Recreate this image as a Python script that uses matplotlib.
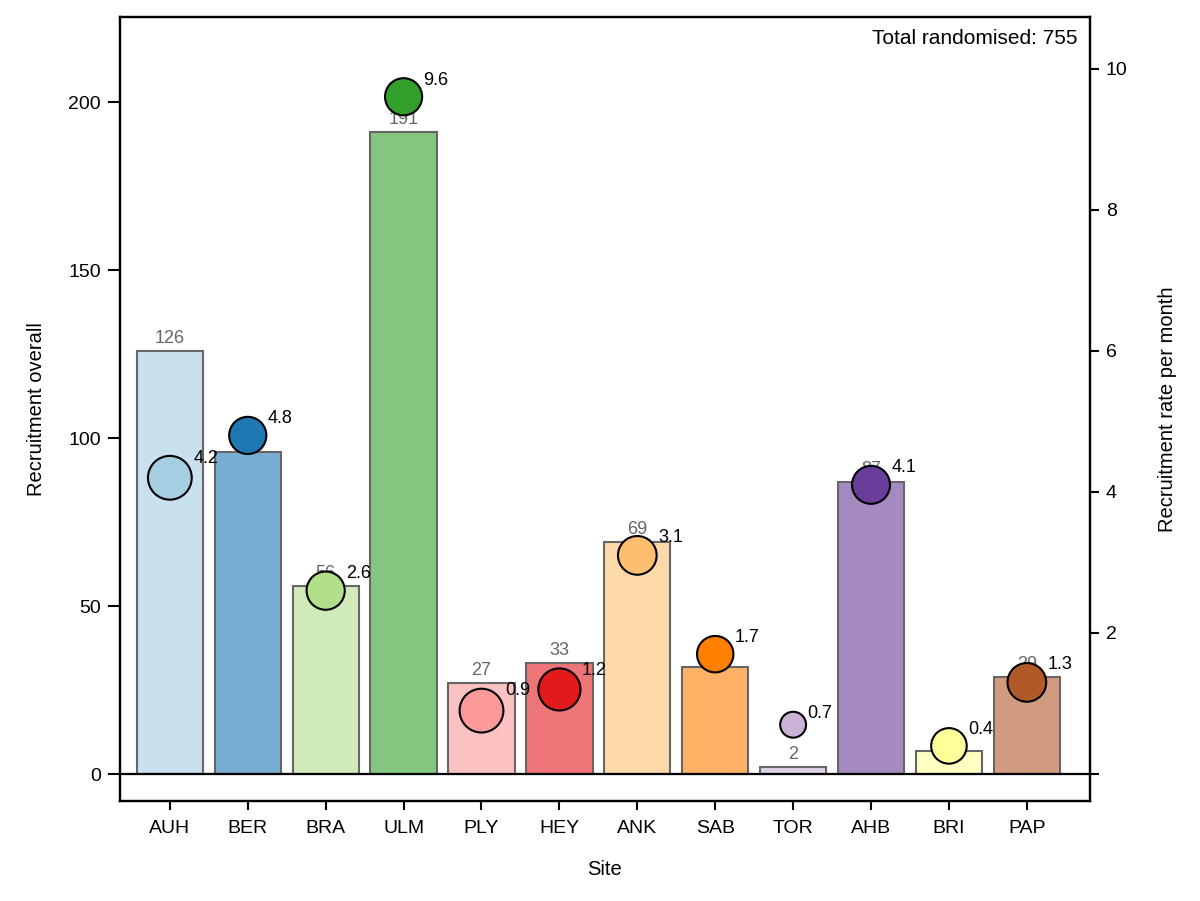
"""
Recruitment per site: overall count (bars) and monthly rate (circles).
"""

import matplotlib
import matplotlib.pyplot as plt
import numpy as np

matplotlib.use("Agg")

plt.rcParams["font.family"] = ["Liberation Sans", "DejaVu Sans"]

SITES = ["AUH", "BER", "BRA", "ULM", "PLY", "HEY", "ANK", "SAB", "TOR", "AHB", "BRI", "PAP"]
RECRUITED = [126, 96, 56, 191, 27, 33, 69, 32, 2, 87, 7, 29]
RATE = [4.2, 4.8, 2.6, 9.6, 0.9, 1.2, 3.1, 1.7, 0.7, 4.1, 0.4, 1.3]
COLOURS = ["#a6cee3", "#1f78b4", "#b2df8a", "#33a02c", "#fb9a99", "#e31a1c",
           "#fdbf6f", "#ff7f00", "#cab2d6", "#6a3d9a", "#ffff99", "#b15928"]
TOTAL = 755


def main():
    x = np.arange(len(SITES))
    counts = np.array(RECRUITED, dtype=float)
    rate = np.array(RATE)
    months = counts / rate
    diam_pt = (24 + 0.66 * months) * 0.72   # circle diameter grows with months open

    fig = plt.figure(figsize=(12, 9.01), dpi=100)
    ax = fig.add_axes([0.1, 0.111, 0.8083, 0.87])
    ax2 = ax.twinx()

    ax.bar(x, counts, width=0.85, color=COLOURS, alpha=0.6, zorder=2)
    ax.bar(x, counts, width=0.85, facecolor="none", edgecolor="#666666",
           linewidth=1.5, zorder=2)
    for xi, c in zip(x, RECRUITED):
        ax.annotate(f"{c}", (xi, c), xytext=(0, 3), textcoords="offset points",
                    ha="center", va="bottom", fontsize=13, color="#666666", zorder=3)
    ax.axhline(0, color="black", linewidth=1.6, zorder=4)

    ax.set_xlim(-0.64, 11.81)
    ax.set_ylim(-8, 225.3)
    ax.set_yticks([0, 50, 100, 150, 200])
    ax.set_xticks(x)
    ax.set_xticklabels(SITES)
    ax.set_xlabel("Site", fontsize=14.5, labelpad=17)
    ax.set_ylabel("Recruitment overall", fontsize=14.5, labelpad=16)
    ax.tick_params(axis="x", labelsize=14, width=1.5, length=6.5, pad=7)
    ax.tick_params(axis="y", labelsize=14, width=1.5, length=8.6, pad=5)

    ax2.set_ylim(-8 / 21, 225.3 / 21)
    ax2.set_yticks([0, 2, 4, 6, 8, 10])
    ax2.set_yticklabels(["", "2", "4", "6", "8", "10"])
    ax2.tick_params(axis="y", labelsize=14, width=1.5, length=6.5, pad=5)
    ax2.set_ylabel("Recruitment rate per month", fontsize=14.5, labelpad=22)

    ax2.scatter(x, rate, s=diam_pt ** 2, c=COLOURS, edgecolors="black",
                linewidths=1.5, zorder=5)
    for xi, r, d in zip(x, rate, diam_pt):
        ax2.annotate(f"{r}", (xi, r), xytext=(d / 2 + 1, d * 0.45),
                     textcoords="offset points", ha="left", va="center",
                     fontsize=13, color="black", zorder=6)

    for a in (ax, ax2):
        for s in a.spines.values():
            s.set_linewidth(1.6)

    ax.text(0.987, 0.985, f"Total randomised: {TOTAL}", transform=ax.transAxes,
            ha="right", va="top", fontsize=15)

    fig.savefig("out.png", dpi=100)
    plt.close(fig)


if __name__ == "__main__":
    main()
